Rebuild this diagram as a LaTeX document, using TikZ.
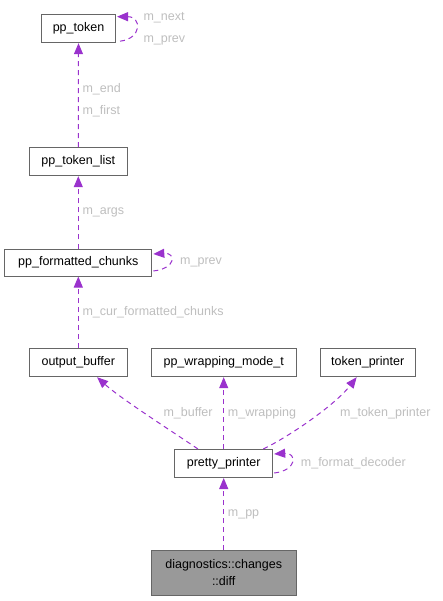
\documentclass[tikz,border=0pt]{standalone}
\usepackage{fontspec}
\setmainfont{Liberation Sans}
\usetikzlibrary{arrows.meta,calc}
\definecolor{edgec}{HTML}{9A32CD}
\definecolor{labc}{HTML}{BEBEBE}
\definecolor{bordc}{HTML}{666666}
\definecolor{fillc}{HTML}{999999}
\begin{document}
\begin{tikzpicture}[x=1pt,y=-1pt,
  font=\fontsize{12.5}{17}\selectfont,
  box/.style={draw=bordc,line width=1pt,fill=white,inner sep=0pt,align=center},
  edge/.style={draw=edgec,line width=1pt,dash pattern=on 5pt off 4pt,-{Triangle[length=11pt,width=9pt,fill=edgec]}},
  lab/.style={text=labc,anchor=west,inner sep=0pt}]
\useasboundingbox (0,0) rectangle (442,601);
\node[box,minimum width=74pt,minimum height=28pt] (tok) at (78.5,28.7) {pp\_token};
\node[box,minimum width=98pt,minimum height=28pt] (tl) at (78.3,161.7) {pp\_token\_list};
\node[box,minimum width=147pt,minimum height=27pt] (fc) at (78.3,262.5) {pp\_formatted\_chunks};
\node[box,minimum width=98pt,minimum height=28pt] (ob) at (78.3,362.7) {output\_buffer};
\node[box,minimum width=145pt,minimum height=28pt] (wm) at (223.7,362.7) {pp\_wrapping\_mode\_t};
\node[box,minimum width=95pt,minimum height=28pt] (tp) at (367.7,362.7) {token\_printer};
\node[box,minimum width=98pt,minimum height=28pt] (pp) at (223.7,463.5) {pretty\_printer};
\node[box,fill=fillc,minimum width=145pt,minimum height=45pt] (diff) at (223.7,573) {diagnostics::changes\\::diff};

% self loops
\draw[edge] ($(tok.east)+(4,12.5)$) .. controls ($(tok.east)+(26,10)$) and ($(tok.east)+(26,-12)$) .. ($(tok.east)+(1,-12)$);
\node[lab] (l1) at (143.3,17.3) {m\_next};
\node[lab] (l2) at (143.3,40) {m\_prev};

\draw[edge] ($(fc.east)+(1,8.5)$) .. controls ($(fc.east)+(24,6)$) and ($(fc.east)+(24,-10)$) .. ($(fc.east)+(1,-8.5)$);
\node[lab] (l3) at (180,262.7) {m\_prev};

\draw[edge] ($(pp.east)+(1,9.5)$) .. controls ($(pp.east)+(24,7)$) and ($(pp.east)+(24,-11)$) .. ($(pp.east)+(1,-9.5)$);
\node[lab] (l4) at (300.7,463.7) {m\_format\_decoder};

% vertical edges
\draw[edge] (tl.north) -- (tok.south);
\node[lab] (l5) at (82.3,89.3) {m\_end};
\node[lab] (l6) at (82.3,111) {m\_first};
\draw[edge] (fc.north) -- (tl.south);
\node[lab] (l7) at (82.3,212) {m\_args};
\draw[edge] (ob.north) -- (fc.south);
\node[lab] (l8) at (82.3,312.3) {m\_cur\_formatted\_chunks};
\draw[edge] (pp.north) -- (wm.south);
\node[lab] (l9) at (227.7,413.3) {m\_wrapping};
\draw[edge] (diff.north) -- (pp.south);
\node[lab] (l10) at (227.7,514.7) {m\_pp};

% diagonal edges
\draw[edge] ($(pp.north west)!0.24!(pp.north east)$) .. controls (170,430) and (120,398) .. ($(ob.south west)!0.69!(ob.south east)$);
\node[lab] (l11) at (163.3,413.3) {m\_buffer};
\draw[edge] ($(pp.north west)!0.90!(pp.north east)$) .. controls (290,436) and (335,405) .. ($(tp.south west)!0.385!(tp.south east)$);
\node[lab] (l12) at (340,413.3) {m\_token\_printer};
\end{tikzpicture}
\end{document}
